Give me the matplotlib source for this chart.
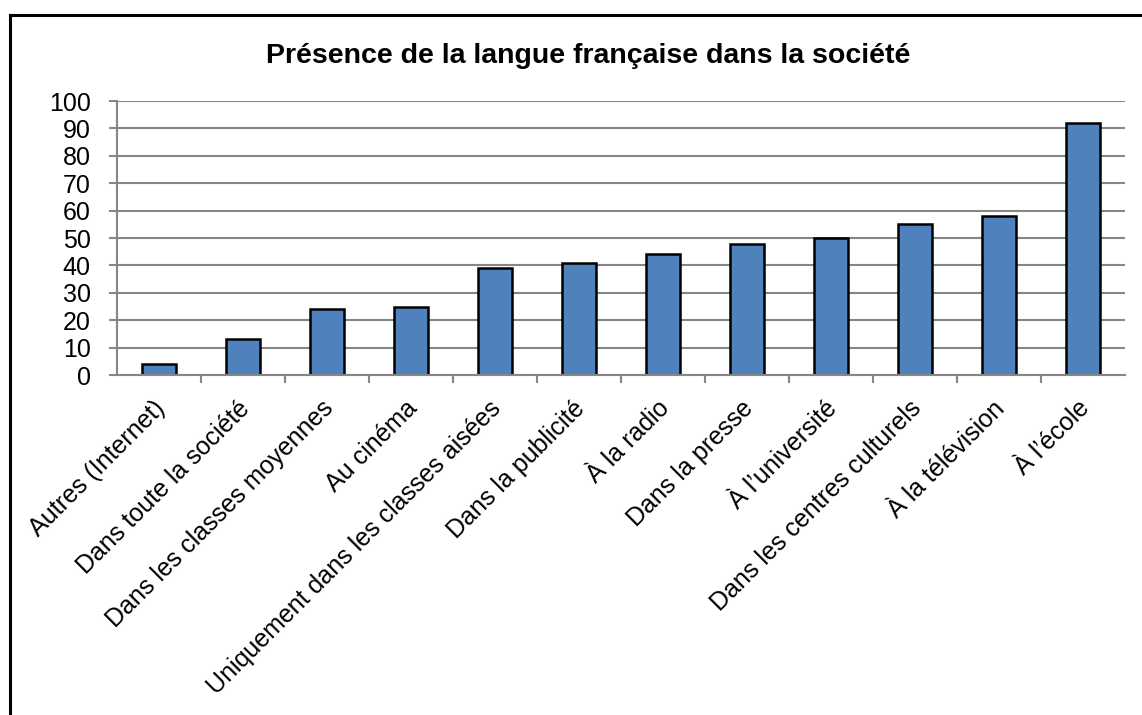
import matplotlib
matplotlib.use("Agg")
import matplotlib.pyplot as plt
from matplotlib.lines import Line2D
import matplotlib.transforms as mtransforms
import numpy as np

plt.rcParams['font.family'] = ['Liberation Sans', 'DejaVu Sans']

categories = ["Autres (Internet)", "Dans toute la société", "Dans les classes moyennes",
              "Au cinéma", "Uniquement dans les classes aisées", "Dans la publicité",
              "À la radio", "Dans la presse", "À l’université", "Dans les centres culturels",
              "À la télévision", "À l’école"]
values = [4, 13, 24, 25, 39, 41, 44, 48, 50, 55, 58, 92]
yticks = list(range(0, 101, 10))
title = "Présence de la langue française dans la société"

fig = plt.figure(figsize=(11.42, 7.15), dpi=100)
ax = fig.add_axes([0.1025, 0.4755, 0.8825, 0.3832])

x = np.arange(len(categories))
ax.bar(x, values, width=0.41, color='#4F81BD', edgecolor='black', linewidth=1.8, zorder=3)

grid_c = '#868686'
ax.set_xlim(-0.5, len(categories) - 0.5)
ax.set_ylim(0, 100)
ax.set_yticks(yticks)
ax.yaxis.grid(True, color=grid_c, linewidth=1.5, zorder=0)
for s in ['top', 'right']:
    ax.spines[s].set_visible(False)
for s in ['left', 'bottom']:
    ax.spines[s].set_color(grid_c)
    ax.spines[s].set_linewidth(1.5)
ax.tick_params(axis='y', direction='out', length=6, width=1.5, color=grid_c,
               labelsize=18, pad=13)
ax.set_xticks(x)
ax.set_xticklabels(categories, rotation=45, ha='right', rotation_mode='anchor',
                   fontsize=18)
ax.tick_params(axis='x', which='major', length=0, pad=11)
offset = mtransforms.ScaledTranslation(-6/100, -6/100, fig.dpi_scale_trans)
for lab in ax.get_xticklabels():
    lab.set_transform(lab.get_transform() + offset)
ax.set_xticks(np.arange(0.5, len(categories) - 0.5, 1), minor=True)
ax.tick_params(axis='x', which='minor', direction='out', length=6, width=1.5, color=grid_c)
ax.spines['bottom'].set_zorder(4)

fig.text(0.515, 0.921, title, ha='center', va='center', fontsize=20.5, fontweight='bold')

# outer frame (top and left visible)
fig.add_artist(Line2D([0.0088, 1.0], [1 - 15/715, 1 - 15/715], transform=fig.transFigure,
                      color='black', linewidth=2.2))
fig.add_artist(Line2D([0.0088, 0.0088], [0.0, 1 - 15/715], transform=fig.transFigure,
                      color='black', linewidth=2.2))

fig.savefig("out.png", dpi=100)
